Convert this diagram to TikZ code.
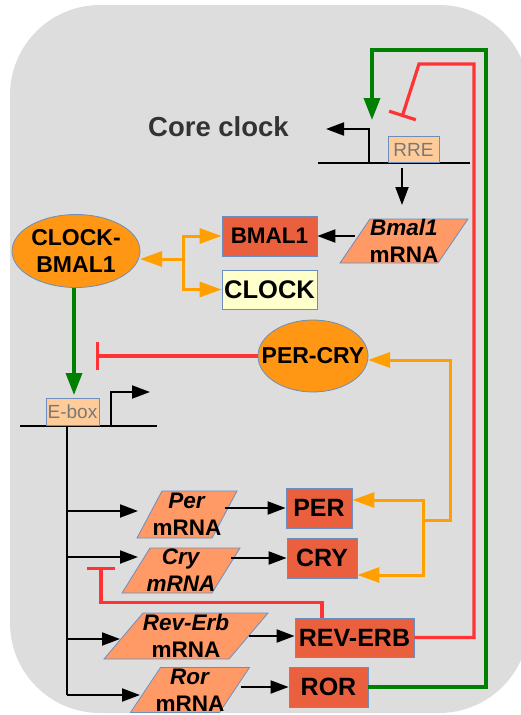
\documentclass[tikz,border=0pt]{standalone}
\usepackage{fontspec}
\setmainfont{Liberation Sans}
\usetikzlibrary{arrows.meta,shapes.geometric}
\definecolor{bgc}{RGB}{221,221,221}
\definecolor{protc}{RGB}{234,96,62}
\definecolor{mrnac}{RGB}{255,153,102}
\definecolor{cplxc}{RGB}{255,150,20}
\definecolor{bordc}{RGB}{108,142,191}
\definecolor{clockc}{RGB}{255,255,204}
\definecolor{peachc}{RGB}{255,204,153}
\definecolor{grnc}{RGB}{0,128,0}
\definecolor{redc}{RGB}{255,51,51}
\definecolor{orc}{RGB}{255,160,0}
\definecolor{sitetxt}{RGB}{120,120,120}
\definecolor{titc}{RGB}{51,51,51}
\newcommand\mrnanode[7]{%
  \filldraw[fill=mrnac,draw=bordc,line width=0.8pt]
    ({#2-#4/2+#6/2},{#3-#5/2}) -- ({#2+#4/2+#6/2},{#3-#5/2}) --
    ({#2+#4/2-#6/2},{#3+#5/2}) -- ({#2-#4/2-#6/2},{#3+#5/2}) -- cycle;
  \node[mrnatext, minimum width=#4pt, minimum height=#5pt] (#1) at (#2,#3) {#7};}
\begin{document}
\begin{tikzpicture}[x=1pt,y=-1pt,
  prot/.style={draw=bordc, line width=0.8pt, fill=protc, inner sep=0pt,
    font=\fontsize{25}{29}\selectfont\bfseries},
  cplx/.style={ellipse, draw=bordc, line width=0.8pt, fill=cplxc, inner sep=0pt},
  cplxtext/.style={align=center, inner sep=0pt, font=\fontsize{23}{27.5}\selectfont\bfseries},
  site/.style={draw=bordc, line width=0.8pt, fill=peachc, text=sitetxt, inner sep=0pt,
    font=\fontsize{19}{21}\selectfont},
  mrnatext/.style={align=center, inner sep=0pt, font=\fontsize{22.5}{27}\selectfont\bfseries},
  gene/.style={black, line width=2pt},
  blk/.style={black, line width=2pt, -{Triangle[length=18pt,width=13pt]}},
  act/.style={grnc, line width=3.5pt, -{Triangle[length=22pt,width=16pt]}},
  inh/.style={redc, line width=3.2pt, -{Bar[width=28pt]}},
  oarr/.style={orc, line width=3pt, -{Triangle[length=22pt,width=15pt]}}]
\useasboundingbox (0,0) rectangle (521,715);
\begin{scope}
  \clip (0,0) rectangle (521,715);
  \fill[bgc, rounded corners=90pt] (10,5) rectangle (529,713);
\end{scope}

% title
\node[font=\fontsize{27.5}{31}\selectfont\bfseries, text=titc] (title) at (218.5,127) {Core clock};

% RRE gene
\coordinate (rreL) at (318,163);
\coordinate (rreR) at (470,163);
\draw[gene] (rreL) -- (rreR);
\node[site, minimum width=51pt, minimum height=26pt, anchor=south] (rre) at (413.5,163) {RRE};
\coordinate (rreP) at (369,163);
\coordinate (rreT) at (326,129);
\draw[blk] (rreP) |- (rreT);
\coordinate (rreO) at (402,168);
\coordinate (bm1top) at (402,205);
\draw[blk] (rreO) -- (bm1top);

% E-box gene
\coordinate (ebL) at (20,426);
\coordinate (ebR) at (157,426);
\draw[gene] (ebL) -- (ebR);
\node[site, minimum width=53pt, minimum height=27pt, anchor=south] (ebox) at (72.5,426) {E-box};
\coordinate (ebP) at (111,426);
\coordinate (ebT) at (150,392);
\draw[blk] (ebP) |- (ebT);

% mRNAs
\mrnanode{bmal1m}{404}{241}{98}{44}{30}{\textit{Bmal1}\\mRNA}
\mrnanode{perm}{187}{514.5}{75}{47}{25}{\textit{Per}\\mRNA}
\mrnanode{crym}{181}{570.5}{90}{45}{28}{\textit{Cry}\\\textit{mRNA}}
\mrnanode{reverbm}{186}{636}{125}{46}{39}{\textit{Rev-Erb}\\mRNA}
\mrnanode{rorm}{190}{690}{89}{45}{30}{\textit{Ror}\\mRNA}

% proteins
\node[prot, minimum width=95pt, minimum height=40pt, font=\fontsize{22.5}{26}\selectfont\bfseries] (bmal1) at (269.5,236) {BMAL1};
\node[prot, fill=clockc, minimum width=95pt, minimum height=39pt, font=\fontsize{25.5}{29}\selectfont\bfseries] (clock) at (269.5,289.5) {CLOCK};
\node[prot, minimum width=66pt, minimum height=40pt] (per) at (319,508) {PER};
\node[prot, minimum width=70pt, minimum height=40pt] (cry) at (322,558) {CRY};
\node[prot, minimum width=119pt, minimum height=39pt] (reverb) at (354.5,637.5) {REV-ERB};
\node[prot, minimum width=79pt, minimum height=40pt] (ror) at (328.5,687) {ROR};

% complexes
\node[cplx, minimum width=128pt, minimum height=73pt] (cb) at (76,251) {};
\node[cplxtext] (cbt) at (cb) {CLOCK-\\BMAL1};
\node[cplx, minimum width=110pt, minimum height=72pt] (pc) at (313,356) {};
\node[cplxtext] (pct) at (pc) {PER-CRY};

% translation arrows
\draw[blk] (bmal1m.west |- bmal1.east) -- (bmal1.east);
\draw[blk] (perm.east |- per.west) -- (per.west);
\draw[blk] (crym.east) ++(5,-12.5) -- (cry.west);
\draw[blk] (reverbm.east) -- (reverbm.east -| reverb.west);
\draw[blk] (rorm.east) ++(6,-3) -- (ror.west);

% transcription from E-box
\coordinate (ebO) at (67,426);
\coordinate (tEnd) at (67,695);
\draw[gene] (ebO) -- (tEnd);
\coordinate (bPer) at (138,511);
\coordinate (bCry) at (138,557);
\coordinate (bRev) at (120,639);
\coordinate (bRor) at (140,695);
\draw[blk] (ebO |- bPer) -- (bPer);
\draw[blk] (ebO |- bCry) -- (bCry);
\draw[blk] (ebO |- bRev) -- (bRev);
\draw[blk] (tEnd) -- (bRor);

% orange assembly arrows
\coordinate (oj1) at (183,259);
\coordinate (cbE) at (140,259);
\draw[oarr] (oj1) |- (bmal1.west);
\draw[oarr] (oj1) |- (clock.west);
\draw[oarr] (oj1) -- (cbE);
\coordinate (oj2) at (423,520);
\coordinate (pcE) at (368,360);
\draw[oarr] (oj2) |- ([yshift=8pt]per.east);
\draw[oarr] (oj2) |- ([yshift=-17pt]cry.east);
\draw[oarr] (oj2) -- (450,520) |- (pcE);

% green activation
\coordinate (cbS) at (74,288);
\coordinate (ebN) at (74,395);
\draw[act] (cbS) -- (ebN);
\coordinate (rreAct) at (372,120);
\draw[act] (ror.east) -- (486,687) -- (486,50) -| (rreAct);

% red inhibition
\coordinate (ebInh) at (96,356);
\draw[inh] (pc.west) -- (ebInh);
\coordinate (rreInh) at (402,117);
\draw[inh] (reverb.east) -- (474,637.5) -- (474,64) -- (419,64) -- (rreInh);
\coordinate (cryInh) at (101,567);
\draw[inh] ([xshift=-32.5pt]reverb.north) -- ++(0,-15) -| (cryInh);
\end{tikzpicture}
\end{document}
